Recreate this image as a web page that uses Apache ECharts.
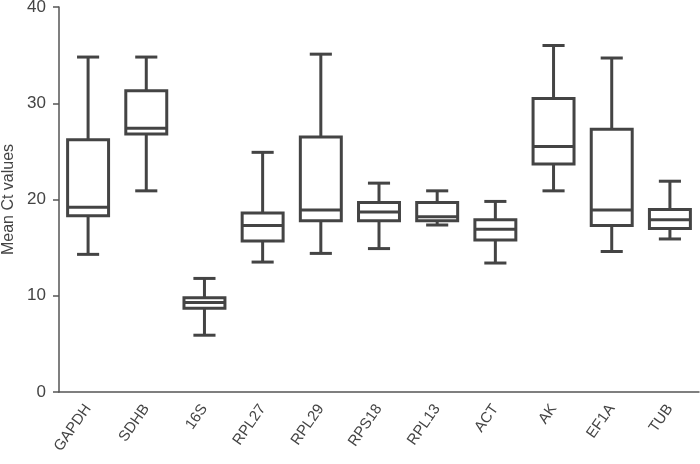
<!DOCTYPE html>
<html>
<head>
<meta charset="utf-8">
<script src="https://cdn.jsdelivr.net/npm/echarts@6/dist/echarts.min.js"></script>
<style>html,body{margin:0;padding:0;background:#fff}#c{width:700px;height:464px}</style>
</head>
<body>
<div id="c"></div>
<script>
const categories = ['GAPDH','SDHB','16S','RPL27','RPL29','RPS18','RPL13','ACT','AK','EF1A','TUB'];
const mins    = [14.3, 20.9, 5.9, 13.5, 14.4, 14.9, 17.35, 13.4, 20.9, 14.6, 15.9];
const q1s     = [18.3, 26.8, 8.7, 15.7, 17.8, 17.8, 17.8, 15.8, 23.7, 17.3, 17.0];
const medians = [19.2, 27.4, 9.3, 17.3, 18.9, 18.7, 18.2, 16.9, 25.5, 18.9, 17.9];
const q3s     = [26.2, 31.3, 9.8, 18.6, 26.5, 19.7, 19.7, 17.9, 30.5, 27.3, 18.95];
const maxs    = [34.8, 34.8, 11.8, 24.9, 35.1, 21.7, 20.9, 19.8, 36.0, 34.7, 21.9];
const yTicks  = [0, 10, 20, 30, 40];

const data = categories.map((c, i) => [i, mins[i], q1s[i], medians[i], q3s[i], maxs[i]]);
const COLOR = '#444';
const LW = 3;
const FONT = 'Liberation Sans, Arial, sans-serif';

function renderItem(params, api) {
  const idx = api.value(0);
  const pMin = api.coord([idx, api.value(1)]);
  const pQ1 = api.coord([idx, api.value(2)]);
  const pMed = api.coord([idx, api.value(3)]);
  const pQ3 = api.coord([idx, api.value(4)]);
  const pMax = api.coord([idx, api.value(5)]);
  const band = api.size([1, 0])[0];
  const hb = band * 0.352;
  const hc = band * 0.19;
  const cx = pMin[0];
  const st = { stroke: COLOR, lineWidth: LW, fill: null };
  return {
    type: 'group',
    children: [
      { type: 'rect', shape: { x: cx - hb, y: pQ3[1], width: 2 * hb, height: pQ1[1] - pQ3[1] }, style: { stroke: COLOR, lineWidth: LW, fill: '#fff' } },
      { type: 'line', shape: { x1: cx - hb, y1: pMed[1], x2: cx + hb, y2: pMed[1] }, style: st },
      { type: 'line', shape: { x1: cx, y1: pQ3[1], x2: cx, y2: pMax[1] }, style: st },
      { type: 'line', shape: { x1: cx, y1: pQ1[1], x2: cx, y2: pMin[1] }, style: st },
      { type: 'line', shape: { x1: cx - hc, y1: pMax[1], x2: cx + hc, y2: pMax[1] }, style: st },
      { type: 'line', shape: { x1: cx - hc, y1: pMin[1], x2: cx + hc, y2: pMin[1] }, style: st }
    ]
  };
}

const chart = echarts.init(document.getElementById('c'), null, { renderer: 'canvas' });
chart.setOption({
  animation: false,
  backgroundColor: '#fff',
  grid: { left: 59, right: 1, top: 7, bottom: 72, containLabel: false, outerBoundsMode: 'none' },
  xAxis: {
    type: 'category',
    data: categories,
    boundaryGap: true,
    axisLine: { lineStyle: { color: '#555', width: 1.5 } },
    axisTick: { alignWithLabel: true, length: 6, lineStyle: { color: '#555', width: 1.5 } },
    axisLabel: { rotate: 55, margin: 14, fontSize: 15, color: '#444', fontFamily: FONT, interval: 0 },
    splitLine: { show: false }
  },
  yAxis: {
    type: 'value',
    min: yTicks[0],
    max: yTicks[yTicks.length - 1],
    interval: 10,
    name: 'Mean Ct values',
    nameLocation: 'middle',
    nameGap: 42,
    nameTextStyle: { fontSize: 16, color: '#444', fontFamily: FONT },
    axisLine: { show: true, lineStyle: { color: '#555', width: 1.5 } },
    axisTick: { show: true, length: 6, lineStyle: { color: '#555', width: 1.5 } },
    axisLabel: { fontSize: 17, color: '#444', margin: 13, fontFamily: FONT },
    splitLine: { show: false }
  },
  series: [{
    type: 'custom',
    renderItem: renderItem,
    encode: { x: 0, y: [1, 2, 3, 4, 5] },
    data: data,
    clip: false
  }]
});
</script>
</body>
</html>
